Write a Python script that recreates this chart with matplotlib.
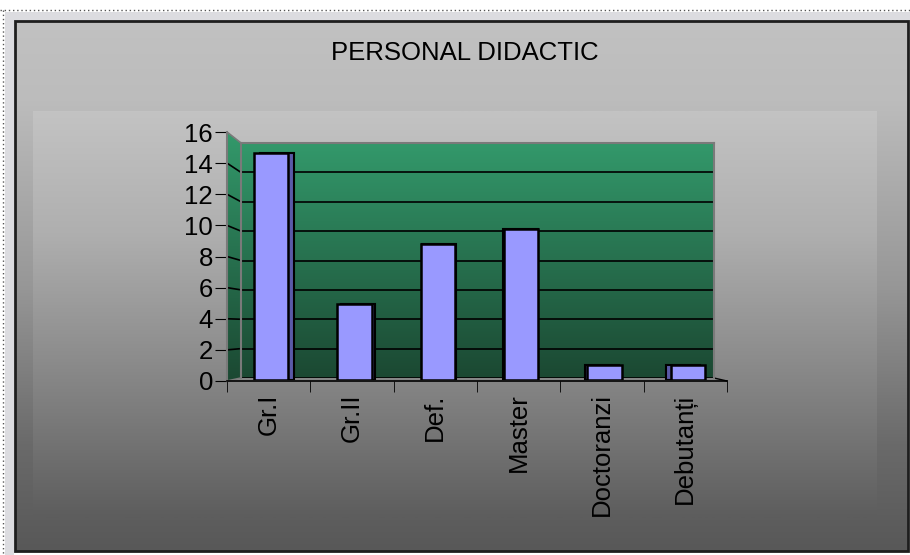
import matplotlib
matplotlib.use("Agg")
import matplotlib.pyplot as plt
import numpy as np
from matplotlib.colors import LinearSegmentedColormap
from matplotlib.patches import Polygon, Rectangle
from matplotlib.lines import Line2D

plt.rcParams['font.family'] = ['Liberation Sans', 'DejaVu Sans']

# data
categories = ['Gr.I', 'Gr.II', 'Def.', 'Master', 'Doctoranzi', 'Debutanți']
values = [15, 5, 9, 10, 1, 1]
yticks = [0, 2, 4, 6, 8, 10, 12, 14, 16]
title = 'PERSONAL DIDACTIC'

W, H = 910, 555
fig = plt.figure(figsize=(W / 100, H / 100), dpi=100)
fig.patch.set_facecolor('white')


def px_box(x0, x1, y0, y1):
    # pixel box (top-left origin) -> figure fraction rect
    return [x0 / W, 1 - y1 / H, (x1 - x0) / W, (y1 - y0) / H]


# background layer in pixel coordinates
bg = fig.add_axes([0, 0, 1, 1])
bg.set_xlim(0, W)
bg.set_ylim(H, 0)
bg.axis('off')

grad = np.linspace(0, 1, 256).reshape(-1, 1)
gray_out = LinearSegmentedColormap.from_list(
    'go', [(0, '#c1c1c1'), (0.15, '#bcbcbc'), (0.5, '#979797'),
           (0.8, '#6a6a6a'), (1, '#585858')])
gray_in = LinearSegmentedColormap.from_list(
    'gi', [(0, '#c3c3c3'), (0.3, '#afafaf'), (0.6, '#8d8d8d'), (1, '#5d5d5d')])

# light strips outside the chart frame
bg.add_patch(Rectangle((5, 12), W - 5, 9, color='#dcdce0', lw=0))
bg.add_patch(Rectangle((5, 12), 9, H - 12, color='#dcdce0', lw=0))
bg.plot([0, W], [10, 10], ls=(0, (1, 2)), color='#555555', lw=1)
bg.plot([3, 3], [10, H], ls=(0, (1, 2)), color='#555555', lw=1)

bg.imshow(grad, cmap=gray_out, extent=(15, 908, 551, 21), aspect='auto', zorder=1)
bg.imshow(grad, cmap=gray_in, extent=(33, 877, 518, 111), aspect='auto', zorder=2)
bg.add_patch(Rectangle((15, 21), 893, 530, fill=False, ec='#1e1e1e', lw=2, zorder=3))
bg.text(465, 53, title, ha='center', va='center', fontsize=18.5, color='black', zorder=4)

# back wall
green = LinearSegmentedColormap.from_list('gr', ['#33996b', '#1b4832'])
ax_wall = fig.add_axes(px_box(241, 714, 143, 378))
ax_wall.set_xlim(0, 1)
ax_wall.set_ylim(0, 16)
ax_wall.imshow(grad, cmap=green, extent=(0, 1, 0, 16), aspect='auto', zorder=0)
ax_wall.set_yticks(yticks)
ax_wall.set_xticks([])
ax_wall.tick_params(left=False, labelleft=False)
ax_wall.yaxis.grid(True, color='black', lw=1.2)
for s in ax_wall.spines.values():
    s.set_color('#7a7a7a')
    s.set_linewidth(1.5)
ax_wall.spines['bottom'].set_visible(False)

# front axes (ticks and labels)
ax = fig.add_axes(px_box(227, 727, 132, 381))
ax.patch.set_alpha(0)
ax.set_xlim(-0.5, len(categories) - 0.5)
ax.set_ylim(0, 16)
ax.set_yticks(yticks)
ax.set_yticklabels([str(t) for t in yticks], fontsize=18.5)
ax.set_xticks(np.arange(len(categories)))
ax.set_xticklabels(categories, rotation=90, fontsize=18.5, va='top')
ax.set_xticks(np.arange(len(categories) + 1) - 0.5, minor=True)
ax.tick_params(axis='x', which='major', length=0, pad=9)
ax.tick_params(axis='x', which='minor', length=8, direction='out', color='black')
ax.tick_params(axis='y', length=9, direction='out', color='black', pad=1)
for side in ('top', 'right'):
    ax.spines[side].set_visible(False)
ax.spines['left'].set_color('#7a7a7a')
ax.spines['left'].set_linewidth(1.5)
ax.spines['bottom'].set_color('black')
ax.spines['bottom'].set_linewidth(1.2)

# side wall between front axis and back wall
fig.canvas.draw()
inv = bg.transData.inverted()
fx = ax.transData
wx = ax_wall.transData
front_bot = inv.transform(fx.transform((-0.5, 0)))
front_top = inv.transform(fx.transform((-0.5, 16)))
back_top = inv.transform(wx.transform((0, 16)))
back_bot = inv.transform(wx.transform((0, 0)))
side = Polygon([front_bot, front_top, back_top, back_bot], closed=True,
               fc='none', ec='#7a7a7a', lw=1.2, zorder=5)
bg.add_patch(side)
im = bg.imshow(grad, cmap=green, aspect='auto', zorder=4,
               extent=(front_top[0], back_top[0], front_bot[1], front_top[1]))
im.set_clip_path(side)
for t in yticks[1:-1]:
    p0 = inv.transform(fx.transform((-0.5, t)))
    p1 = inv.transform(wx.transform((0, t)))
    bg.add_line(Line2D([p0[0], p1[0]], [p0[1], p1[1]], color='black', lw=1.2, zorder=6))
# floor edge at right end
p0 = inv.transform(fx.transform((len(categories) - 0.5, 0)))
p1 = inv.transform(wx.transform((1, 0)))
bg.add_line(Line2D([p0[0], p1[0]], [p0[1], p1[1]], color='black', lw=1, zorder=6))
bg.set_xlim(0, W)
bg.set_ylim(H, 0)

# bars at mid depth
ax_bar = fig.add_axes(px_box(227, 727, 138, 380))
ax_bar.patch.set_alpha(0)
ax_bar.axis('off')
ax_bar.set_xlim(-0.5, len(categories) - 0.5)
ax_bar.set_ylim(0, 16)
x = np.arange(len(categories))
bw = 0.41
# side faces visible through perspective
shift = -0.026 * (x - 2.7)
ax_bar.bar(x + 0.03 + shift, values, width=bw, color='#5a5aa8',
           edgecolor='black', lw=1.5, zorder=2)
ax_bar.bar(x + 0.03, values, width=bw, color='#9999ff',
           edgecolor='black', lw=1.8, zorder=3)

fig.savefig('out.png', dpi=100, facecolor=fig.get_facecolor())
